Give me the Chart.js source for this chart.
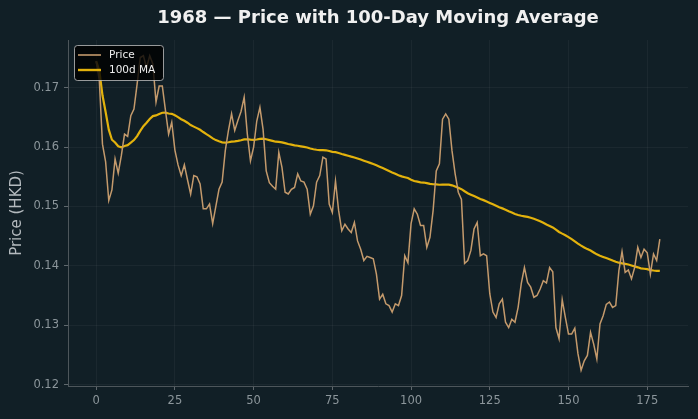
<!DOCTYPE html>
<html><head><meta charset="utf-8">
<script src="https://cdn.jsdelivr.net/npm/chart.js@4.4.1/dist/chart.umd.min.js"></script>
<style>html,body{margin:0;padding:0;background:#111f26;overflow:hidden}</style>
</head><body>
<canvas id="c" width="698" height="419"></canvas>
<script>
// ---- data ----
const price = [
0.1745,0.1712,0.1605,0.1575,0.1510,0.1528,0.1580,0.1556,0.1586,0.1622,
0.1618,0.1653,0.1664,0.1706,0.1751,0.1754,0.1734,0.1754,0.1740,0.1676,
0.1703,0.1703,0.1662,0.1622,0.1642,0.1595,0.1570,0.1552,0.1570,0.1545,
0.1521,0.1552,0.1550,0.1538,0.1496,0.1496,0.1504,0.1471,0.1500,0.1529,
0.1541,0.1594,0.1628,0.1656,0.1628,0.1645,0.1660,0.1684,0.1622,0.1577,
0.1600,0.1644,0.1667,0.1630,0.1560,0.1540,0.1534,0.1529,0.1591,0.1566,
0.1524,0.1521,0.1529,0.1532,0.1555,0.1543,0.1541,0.1529,0.1487,0.1501,
0.1541,0.1552,0.1583,0.1580,0.1504,0.1490,0.1543,0.1493,0.1459,0.1470,
0.1462,0.1456,0.1473,0.1442,0.1428,0.1409,0.1416,0.1414,0.1412,0.1386,
0.1344,0.1352,0.1336,0.1333,0.1322,0.1336,0.1333,0.1350,0.1417,0.1405,
0.1471,0.1496,0.1487,0.1468,0.1468,0.1431,0.1448,0.1493,0.1560,0.1572,
0.1647,0.1656,0.1647,0.1594,0.1555,0.1524,0.1512,0.1404,0.1409,0.1426,
0.1462,0.1473,0.1417,0.1420,0.1417,0.1353,0.1322,0.1313,0.1336,0.1344,
0.1305,0.1296,0.1310,0.1305,0.1330,0.1370,0.1397,0.1372,0.1364,0.1347,
0.1350,0.1361,0.1375,0.1371,0.1397,0.1390,0.1296,0.1277,0.1343,0.1313,
0.1285,0.1285,0.1295,0.1252,0.1224,0.1240,0.1249,0.1288,0.1268,0.1243,
0.1302,0.1316,0.1335,0.1339,0.1330,0.1333,0.1392,0.1424,0.1389,0.1393,
0.1378,0.1397,0.1431,0.1414,0.1428,0.1422,0.1386,0.1420,0.1409,0.1445
];
const maWindow = 100;
const xTicks = [0, 25, 50, 75, 100, 125, 150, 175];
const yTicks = [0.12, 0.13, 0.14, 0.15, 0.16, 0.17];
const titleText = '1968 — Price with 100-Day Moving Average';
const yAxisTitle = 'Price (HKD)';
const seriesLabels = ['Price', '100d MA'];

// ---- derived: day index and rolling mean (min periods 1) ----
const days = price.map((_, i) => i);
const ma = price.map((_, i) => {
  const s = Math.max(0, i - maWindow + 1);
  const w = price.slice(s, i + 1);
  return w.reduce((a, b) => a + b, 0) / w.length;
});

const BG = '#111f26';
const PRICE_C = '#c49a6c';
const MA_C = '#e3b20c';

const bgPlugin = {
  id: 'bg',
  beforeDraw(chart) {
    const ctx = chart.ctx;
    ctx.save();
    ctx.fillStyle = BG;
    ctx.fillRect(0, 0, chart.width, chart.height);
    ctx.restore();
  },
  afterDraw(chart) {
    const ctx = chart.ctx;
    const a = chart.chartArea;
    ctx.save();
    ctx.fillStyle = '#f0f0f0';
    ctx.font = 'bold 18px "DejaVu Sans"';
    ctx.textAlign = 'center';
    ctx.textBaseline = 'middle';
    ctx.fillText(titleText, (a.left + a.right) / 2, 18.5);
    ctx.restore();
  }
};

const legendBox = {
  id: 'legendBox',
  afterDatasetsDraw(chart) {
    const ctx = chart.ctx;
    const a = chart.chartArea;
    const x = a.left + 6, y = a.top + 5, w = 89, h = 35;
    ctx.save();
    ctx.beginPath();
    if (ctx.roundRect) ctx.roundRect(x + 0.5, y + 0.5, w, h, 3); else ctx.rect(x + 0.5, y + 0.5, w, h);
    ctx.fillStyle = 'rgba(0,0,0,0.8)';
    ctx.fill();
    ctx.strokeStyle = 'rgba(200,200,200,0.75)';
    ctx.lineWidth = 1;
    ctx.stroke();
    const items = [[seriesLabels[0], PRICE_C, 1.6], [seriesLabels[1], MA_C, 2.4]];
    ctx.font = '10.5px "DejaVu Sans"';
    ctx.textBaseline = 'middle';
    items.forEach((it, k) => {
      const yy = y + 10 + k * 15;
      ctx.strokeStyle = it[1];
      ctx.lineWidth = it[2];
      ctx.beginPath();
      ctx.moveTo(x + 4, yy);
      ctx.lineTo(x + 27, yy);
      ctx.stroke();
      ctx.fillStyle = '#eeeeee';
      ctx.fillText(it[0], x + 35, yy);
    });
    ctx.restore();
  }
};

new Chart(document.getElementById('c'), {
  type: 'line',
  data: {
    labels: days,
    datasets: [
      { label: seriesLabels[0], data: days.map((d, i) => ({x: d, y: price[i]})), borderColor: PRICE_C, borderWidth: 1.5, pointRadius: 0, tension: 0, fill: false },
      { label: seriesLabels[1], data: days.map((d, i) => ({x: d, y: ma[i]})), borderColor: MA_C, borderWidth: 2.2, pointRadius: 0, tension: 0, fill: false }
    ]
  },
  options: {
    responsive: false,
    devicePixelRatio: 1,
    animation: false,
    layout: { padding: { left: 0, right: 10, top: 40, bottom: 0 } },
    plugins: {
      legend: { display: false },
      tooltip: { enabled: false },
      title: { display: false }
    },
    scales: {
      x: {
        type: 'linear', min: -8.95, max: 187.95,
        afterBuildTicks: s => { s.ticks = xTicks.map(v => ({ value: v })); },
        afterFit: s => { s.height = 33; },
        ticks: { color: '#8c969b', font: { family: '"DejaVu Sans"', size: 11.5 }, padding: 4, maxRotation: 0 },
        grid: { color: 'rgba(255,255,255,0.045)', tickColor: '#5f686d', tickLength: 4 },
        border: { color: '#4d565b' }
      },
      y: {
        type: 'linear', min: 0.11975, max: 0.17805,
        afterBuildTicks: s => { s.ticks = yTicks.map(v => ({ value: v })); },
        afterFit: s => { s.width = 68; },
        ticks: { color: '#8c969b', font: { family: '"DejaVu Sans"', size: 11.5 }, padding: 5, callback: v => v.toFixed(2) },
        grid: { color: 'rgba(255,255,255,0.045)', tickColor: '#5f686d', tickLength: 4 },
        border: { color: '#4d565b' },
        title: { display: true, text: yAxisTitle, color: '#b4babe', font: { family: '"DejaVu Sans"', size: 15 }, padding: { top: 8, bottom: 4 } }
      }
    }
  },
  plugins: [bgPlugin, legendBox]
});
</script>
</body></html>
